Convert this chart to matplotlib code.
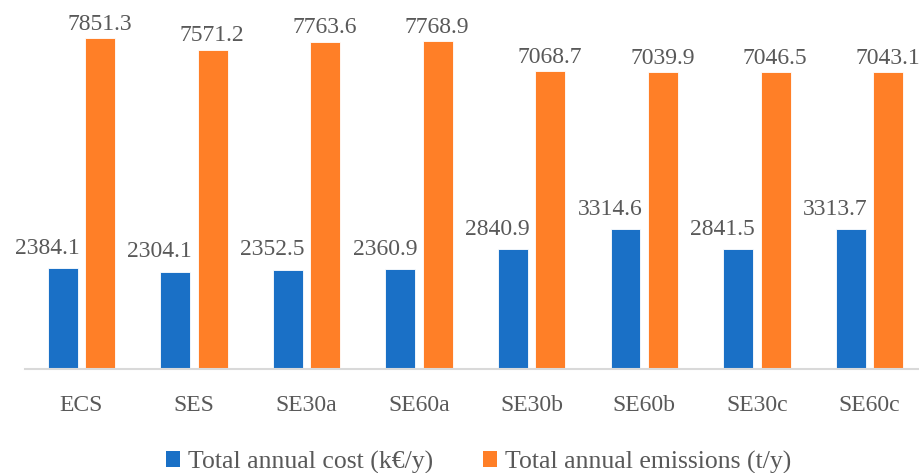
import numpy as np
import matplotlib.pyplot as plt

scenarios = ['ECS', 'SES', 'SE30a', 'SE60a', 'SE30b', 'SE60b', 'SE30c', 'SE60c']
cost = [2384.1, 2304.1, 2352.5, 2360.9, 2840.9, 3314.6, 2841.5, 3313.7]
emissions = [7851.3, 7571.2, 7763.6, 7768.9, 7068.7, 7039.9, 7046.5, 7043.1]

blue = '#1A70C6'
orange = '#FF7F27'
grey = '#595959'

plt.rcParams['font.family'] = ['Liberation Serif', 'DejaVu Serif']

fig = plt.figure(figsize=(9.19, 4.73), dpi=100)
ax = fig.add_axes([25 / 919, 104 / 473, 894 / 919, 369 / 473])

x = np.arange(len(scenarios))
w = 0.266
off = 0.1665
b1 = ax.bar(x - off, cost, w, color=blue, edgecolor='white', linewidth=0.6,
            label='Total annual cost (k€/y)')
b2 = ax.bar(x + off, emissions, w, color=orange, edgecolor='white', linewidth=0.6,
            label='Total annual emissions (t/y)')

# cost labels sit left of the orange bar, emission labels centred
for xi, v in zip(x, cost):
    ax.annotate(f'{v:.1f}', (xi - off + w / 2, v), xytext=(1.5, 10.5),
                textcoords='offset points', ha='right', va='baseline',
                fontsize=17, color=grey, annotation_clip=False)
for xi, v in zip(x, emissions):
    ax.annotate(f'{v:.1f}', (xi + off, v), xytext=(-0.5, 6),
                textcoords='offset points', ha='center', va='baseline',
                fontsize=17, color=grey, annotation_clip=False)

ax.set_xlim(-0.5, 7.44)
ax.set_ylim(0, 8752)
ax.set_yticks([])
ax.set_xticks(x)
ax.set_xticklabels(scenarios, fontsize=17, color=grey)
ax.tick_params(axis='x', length=0, pad=19)
for s in ['top', 'right', 'left']:
    ax.spines[s].set_visible(False)
ax.spines['bottom'].set_color('#D9D9D9')
ax.spines['bottom'].set_linewidth(1.5)

leg = fig.legend(handles=[b1, b2], loc='center', bbox_to_anchor=(479 / 919, 1 - 462 / 473),
                 ncol=2, frameon=False, fontsize=18.5, handlelength=0.545, handleheight=0.545,
                 handletextpad=0.31, columnspacing=1.95, labelcolor=grey, borderpad=0)
for h in leg.legend_handles:
    h.set_edgecolor('none')

fig.savefig('out.png', dpi=100)
